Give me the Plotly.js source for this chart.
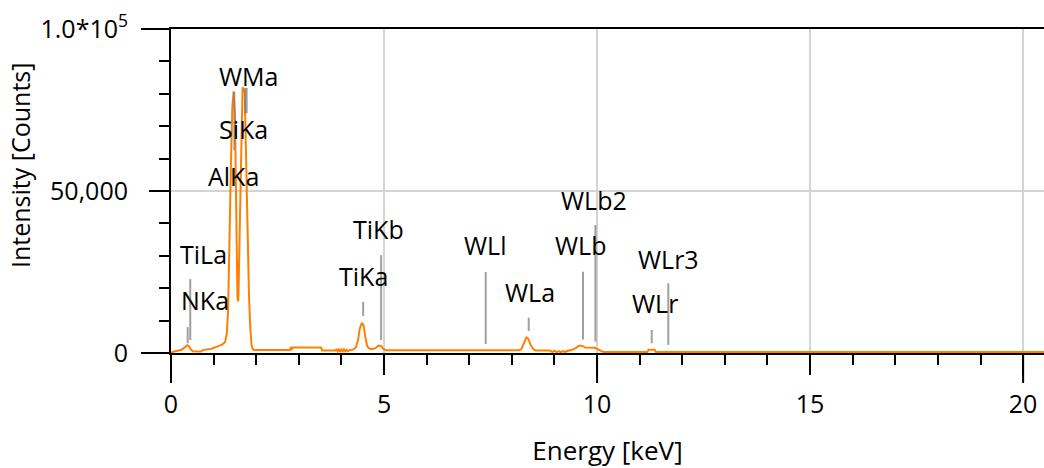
<!DOCTYPE html>
<html>
<head>
<meta charset="utf-8">
<script src="https://cdn.plot.ly/plotly-3.0.1.min.js"></script>
<style>html,body{margin:0;padding:0;background:#fff;}#chart{width:1044px;height:468px;}</style>
</head>
<body>
<div id="chart"></div>
<script>
// Spectrum (energy in keV, intensity in counts)
const energy = [0.00,0.05,0.15,0.25,0.33,0.38,0.42,0.47,0.52,0.60,0.70,0.75,0.85,0.95,1.05,1.12,1.20,1.27,1.31,1.34,1.37,1.41,1.44,1.47,1.50,1.53,1.56,1.58,1.61,1.64,1.68,1.73,1.77,1.80,1.83,1.86,1.89,1.92,1.95,2.80,2.82,2.84,2.87,3.52,3.55,3.85,3.88,3.91,3.94,3.97,4.00,4.03,4.06,4.09,4.12,4.15,4.20,4.28,4.34,4.39,4.43,4.48,4.52,4.56,4.60,4.64,4.70,4.80,4.87,4.93,4.98,5.05,8.15,8.22,8.28,8.34,8.38,8.44,8.50,8.56,8.90,8.95,9.00,9.05,9.10,9.15,9.20,9.25,9.30,9.40,9.50,9.58,9.66,9.72,9.95,10.02,10.08,10.15,11.18,11.21,11.35,11.38,20.49];
const counts = [0,400,700,1000,1800,2400,2100,1000,500,400,450,900,1100,1300,1800,2100,2600,3400,6000,13000,37000,60000,76000,80800,74000,45000,17000,16000,40000,64000,82000,80500,55000,32000,18000,8000,2500,1200,900,900,1900,1300,1700,1700,800,750,1100,500,1100,500,1100,500,1100,500,1000,600,900,1100,1800,4000,7500,9300,8500,5000,2300,1500,1200,1500,2300,2200,1300,850,850,1100,3000,4800,4500,2500,1200,800,750,300,700,200,600,250,600,300,600,900,1500,2300,2200,1700,1600,1200,700,300,300,1000,1000,300,300];

// Element line markers
const lineNames   = ["NKa","TiLa","AlKa","SiKa","WMa","TiKa","TiKb","WLl","WLa","WLb","WLb2","WLr","WLr3"];
const lineEnergy  = [0.392,0.452,1.486,1.740,1.775,4.510,4.931,7.387,8.396,9.670,9.961,11.283,11.672];
const markerLow   = [3000,4000,62600,74000,74000,11400,4000,2800,6800,4200,3500,3000,2500];
const markerHigh  = [8000,22800,80500,81800,81800,15800,30200,25000,10900,25100,39500,7100,21500];
const labelEnergy = [0.80,0.76,1.47,1.70,1.81,4.51,4.88,7.37,8.43,9.62,9.93,11.36,11.67];
const labelCounts = [16400,30600,54600,69100,85500,23800,38300,33300,18800,33300,47200,15400,29000];

// Axis ticks
const xTickVals = [0,5,10,15,20];
const xLongTicks = [0,10,20];
const yTickVals = [0,50000,100000];
const yTickText = ["0","50,000","1.0*10<sup>5</sup>"];
const yLongTicks = [0,100000];
const xMax = 20.49, yMax = 100000;

const W = 1044, H = 468;
const M = {l: 171, r: 0, t: 29, b: 115};
const plotW = W - M.l - M.r, plotH = H - M.t - M.b;

const mx = [], my = [];
for (let i = 0; i < lineEnergy.length; i++) {
  mx.push(lineEnergy[i], lineEnergy[i], null);
  my.push(markerLow[i], markerHigh[i], null);
}

const traces = [
  {x: energy, y: counts, type: 'scatter', mode: 'lines', line: {color: '#ff8000', width: 2}, hoverinfo: 'skip'},
  {x: mx, y: my, type: 'scatter', mode: 'lines', line: {color: 'rgba(128,128,128,0.75)', width: 2}, hoverinfo: 'skip'}
];

const annotations = lineNames.map((n, i) => ({
  x: labelEnergy[i], y: labelCounts[i], xref: 'x', yref: 'y', text: n, showarrow: false,
  xanchor: 'center', yanchor: 'middle', font: {size: 25, color: '#000'}
}));
annotations.push({
  x: (20 - M.l) / plotW, y: (H - M.b - 166) / plotH, xref: 'paper', yref: 'paper', text: 'Intensity [Counts]', textangle: -90,
  showarrow: false, xanchor: 'center', yanchor: 'middle', font: {size: 25, color: '#000'}
});

// long major ticks (decoration, extends the 20px ticks to 30px)
const shapes = [];
xLongTicks.forEach(v => shapes.push({type: 'line', xref: 'paper', yref: 'paper',
  x0: v / xMax, x1: v / xMax, y0: 0, y1: -30 / plotH, line: {color: '#000', width: 2}}));
yLongTicks.forEach(v => shapes.push({type: 'line', xref: 'paper', yref: 'paper',
  x0: 0, x1: -30 / plotW, y0: v / yMax, y1: v / yMax, line: {color: '#000', width: 2}}));

const layout = {
  width: W, height: H,
  margin: {l: M.l, r: M.r, t: M.t, b: M.b, pad: 0},
  paper_bgcolor: '#fff', plot_bgcolor: '#fff',
  showlegend: false,
  font: {family: 'Open Sans, sans-serif', size: 25, color: '#000'},
  xaxis: {
    range: [0, xMax], tickmode: 'array', tickvals: xTickVals,
    ticks: 'outside', ticklen: 20, tickwidth: 2, tickcolor: '#000',
    showline: true, linecolor: '#000', linewidth: 2, mirror: true,
    showgrid: true, gridcolor: '#d4d4d4', gridwidth: 2, zeroline: false,
    minor: {dtick: 1, tick0: 0, ticks: 'outside', ticklen: 10, tickwidth: 2, tickcolor: '#000', showgrid: false},
    tickfont: {size: 25}, ticklabelstandoff: 8, automargin: false,
    title: {text: 'Energy [keV]', font: {size: 26}, standoff: 24}
  },
  yaxis: {
    range: [0, yMax], tickmode: 'array', tickvals: yTickVals, ticktext: yTickText,
    ticks: 'outside', ticklen: 20, tickwidth: 2, tickcolor: '#000',
    showline: true, linecolor: '#000', linewidth: 2,
    showgrid: true, gridcolor: '#d4d4d4', gridwidth: 2, zeroline: false,
    minor: {dtick: 10000, tick0: 0, ticks: 'outside', ticklen: 10, tickwidth: 2, tickcolor: '#000', showgrid: false},
    tickfont: {size: 25}, ticklabelstandoff: 16, automargin: false
  },
  shapes: shapes,
  annotations: annotations
};

Plotly.newPlot('chart', traces, layout, {displayModeBar: false, staticPlot: true});
</script>
</body>
</html>
